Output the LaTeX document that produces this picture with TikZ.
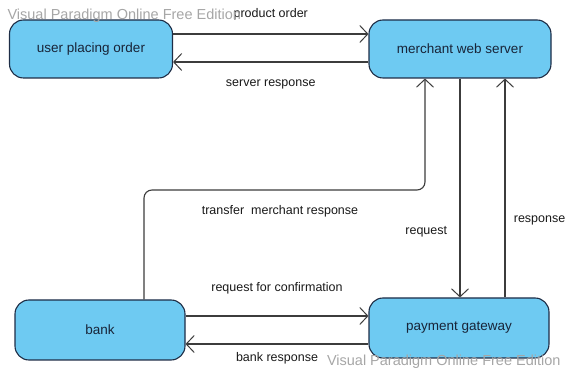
\documentclass[tikz,border=0pt]{standalone}
\usepackage{fontspec}
\setmainfont{Liberation Sans}
\usetikzlibrary{arrows.meta,calc}
\definecolor{boxblue}{RGB}{110,202,242}
\definecolor{boxline}{RGB}{30,45,70}
\definecolor{linegray}{RGB}{60,60,60}
\tikzstyle{line} = [draw=linegray, line width=1.1pt, -{Straight Barb[length=8pt,width=17pt,line width=1pt]}]
\tikzstyle{block} = [draw=boxline, fill=boxblue, line width=1.1pt, rectangle, rounded corners=14pt, text centered, minimum height=58pt, text=boxline!80!black, font=\fontsize{13.5}{15}\selectfont]
\tikzstyle{lbl} = [font=\fontsize{12.5}{14}\selectfont, text=black!90]
\tikzstyle{watermark} = [font=\fontsize{14.5}{16}\selectfont, text=black!35]

\begin{document}
\begin{tikzpicture}[x=1pt, y=-1pt]
        \useasboundingbox (0,0) rectangle (566,371);
        \node[block, minimum width=163pt] (user) at (91,49) {user placing order};
        \node[block, minimum width=182pt] (merchant) at (460,49) {merchant web server};
        \node[block, minimum width=170pt, minimum height=60pt] (bank) at (100,330) {bank};
        \node[block, minimum width=180pt, minimum height=60pt] (gateway) at (459,328) {payment gateway};
        \coordinate (bend) at (425,190);
        % user <-> merchant
        \path[line] ([yshift=15pt]user.east) -- ([yshift=15pt]user.east -| merchant.west)
            node[lbl, midway, above=10pt] {product order};
        \path[line] ([yshift=-13pt]merchant.west) -- ([yshift=-13pt]merchant.west -| user.east)
            node[lbl, midway, below=14pt] {server response};
        % bank <-> gateway
        \path[line] ([yshift=14pt]bank.east) -- ([yshift=14pt]bank.east -| gateway.west)
            node[lbl, midway, above=18pt] {request for confirmation};
        \path[line] ([yshift=-16pt]gateway.west) -- ([yshift=-16pt]gateway.west -| bank.east)
            node[lbl, midway, below=5pt] {bank response};
        % merchant <-> gateway
        \path[line] (merchant.south) -- (merchant.south |- gateway.north)
            node[lbl, pos=0.7, left=9pt] {request};
        \path[line] ([xshift=46pt]gateway.north) -- ([xshift=46pt]gateway.north |- merchant.south)
            node[lbl, pos=0.35, right=5pt] {response};
        % bank -> merchant
        \path[line, rounded corners=8pt] ([xshift=44pt]bank.north) |- (bend) -- (bend |- merchant.south);
        \node[lbl] (transfer) at (280,211) {transfer\ \ merchant response};
        % watermarks
        \node[watermark, anchor=west] (wmA) at (4,16) {Visual Paradigm Online Free Edition};
        \node[watermark, anchor=east] (wmB) at (564,362) {Visual Paradigm Online Free Edition};
    \end{tikzpicture}
\end{document}
